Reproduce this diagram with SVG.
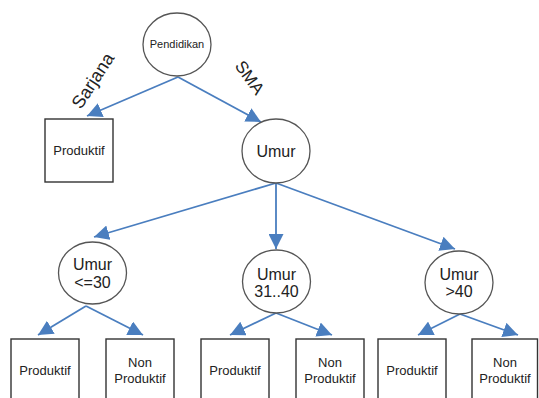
<svg xmlns="http://www.w3.org/2000/svg" width="539" height="398" viewBox="0 0 539 398">
<style>
.c{fill:#fff;stroke:#555;stroke-width:1.3}
.b{fill:#fff;stroke:#333;stroke-width:1.4}
.t{font-family:"Liberation Sans",Arial,sans-serif;fill:#222;text-anchor:middle}
.e{stroke:#4a7ebf;stroke-width:1.8;fill:none;marker-end:url(#ah)}
</style>
<defs>
<marker id="ah" viewBox="0 0 15 15" refX="15" refY="7.5" markerWidth="15" markerHeight="15" markerUnits="userSpaceOnUse" orient="auto">
<path d="M0,0 L15,7.5 L0,15 z" fill="#4a7ebf"/>
</marker>
</defs>
<rect width="539" height="398" fill="#fff"/>
<g id="connectors">
<line class="e" x1="178" y1="77" x2="87" y2="116"/>
<line class="e" x1="178" y1="77" x2="261" y2="122"/>
<line class="e" x1="276" y1="183" x2="94" y2="237"/>
<line class="e" x1="276" y1="183" x2="276" y2="249"/>
<line class="e" x1="276" y1="183" x2="455" y2="249"/>
<line class="e" x1="86" y1="306" x2="38" y2="335"/>
<line class="e" x1="86" y1="306" x2="143" y2="335"/>
<line class="e" x1="276" y1="313" x2="230" y2="335"/>
<line class="e" x1="276" y1="313" x2="332" y2="335"/>
<line class="e" x1="460" y1="314" x2="418" y2="335"/>
<line class="e" x1="460" y1="314" x2="518" y2="335"/>
<text class="t" font-size="18" transform="translate(98,84) rotate(-57)">Sarjana</text>
<text class="t" font-size="17" transform="translate(245,81) rotate(54)">SMA</text>
</g>
<g id="pendidikan">
<ellipse class="c" cx="177" cy="44.5" rx="34" ry="31.5"/>
<text class="t" font-size="11" x="177" y="48">Pendidikan</text>
</g>
<g id="produktif-sarjana">
<rect class="b" x="45" y="119" width="68" height="63"/>
<text class="t" font-size="13" x="79" y="155">Produktif</text>
</g>
<g id="umur">
<ellipse class="c" cx="276" cy="151" rx="34" ry="32"/>
<text class="t" font-size="16" x="276" y="157">Umur</text>
</g>
<g id="umur-le30">
<ellipse class="c" cx="92.5" cy="273" rx="34" ry="31"/>
<text class="t" font-size="16" x="92.5" y="270">Umur</text>
<text class="t" font-size="16" x="92.5" y="288">&lt;=30</text>
</g>
<g id="umur-31-40">
<ellipse class="c" cx="276.5" cy="281.5" rx="34" ry="31.5"/>
<text class="t" font-size="16" x="276.5" y="280">Umur</text>
<text class="t" font-size="16" x="276.5" y="297">31..40</text>
</g>
<g id="umur-gt40">
<ellipse class="c" cx="459" cy="282.5" rx="34" ry="31.5"/>
<text class="t" font-size="16" x="459" y="280">Umur</text>
<text class="t" font-size="16" x="459" y="297">&gt;40</text>
</g>
<g id="leaf1">
<rect class="b" x="11" y="339" width="68" height="63"/>
<text class="t" font-size="13" x="45" y="375">Produktif</text>
</g>
<g id="leaf2">
<rect class="b" x="106" y="339" width="68" height="63"/>
<text class="t" font-size="13" x="140" y="367">Non</text>
<text class="t" font-size="13" x="140" y="383">Produktif</text>
</g>
<g id="leaf3">
<rect class="b" x="201" y="339" width="68" height="63"/>
<text class="t" font-size="13" x="235" y="375">Produktif</text>
</g>
<g id="leaf4">
<rect class="b" x="296" y="339" width="68" height="63"/>
<text class="t" font-size="13" x="330" y="367">Non</text>
<text class="t" font-size="13" x="330" y="383">Produktif</text>
</g>
<g id="leaf5">
<rect class="b" x="378" y="339" width="68" height="63"/>
<text class="t" font-size="13" x="412" y="375">Produktif</text>
</g>
<g id="leaf6">
<rect class="b" x="472" y="339" width="65.5" height="63"/>
<text class="t" font-size="13" x="505" y="367">Non</text>
<text class="t" font-size="13" x="505" y="383">Produktif</text>
</g>
</svg>
